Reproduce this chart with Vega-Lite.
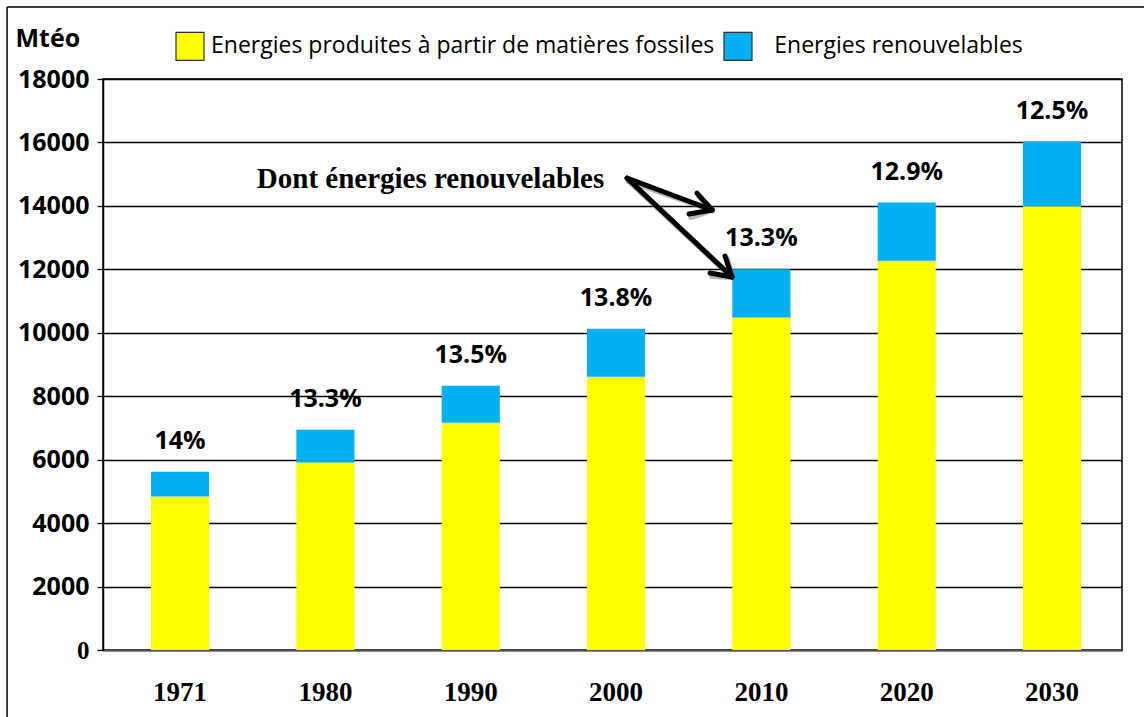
{
  "$schema": "https://vega.github.io/schema/vega-lite/v6.json",
  "width": 1019,
  "height": 571,
  "autosize": {"type": "none"},
  "padding": {"left": 103, "top": 79, "right": 22, "bottom": 67},
  "background": "white",
  "config": {
    "font": "Open Sans",
    "view": {"stroke": "#000", "strokeWidth": 1.5}
  },
  "datasets": {
    "bars": [
      {"year": "1971", "type": "Energies produites à partir de matières fossiles", "value": 4837},
      {"year": "1971", "type": "Energies renouvelables", "value": 779},
      {"year": "1980", "type": "Energies produites à partir de matières fossiles", "value": 5909},
      {"year": "1980", "type": "Energies renouvelables", "value": 1032},
      {"year": "1990", "type": "Energies produites à partir de matières fossiles", "value": 7162},
      {"year": "1990", "type": "Energies renouvelables", "value": 1167},
      {"year": "2000", "type": "Energies produites à partir de matières fossiles", "value": 8613},
      {"year": "2000", "type": "Energies renouvelables", "value": 1515},
      {"year": "2010", "type": "Energies produites à partir de matières fossiles", "value": 10484},
      {"year": "2010", "type": "Energies renouvelables", "value": 1516},
      {"year": "2020", "type": "Energies produites à partir de matières fossiles", "value": 12273},
      {"year": "2020", "type": "Energies renouvelables", "value": 1830},
      {"year": "2030", "type": "Energies produites à partir de matières fossiles", "value": 13986},
      {"year": "2030", "type": "Energies renouvelables", "value": 2042}
    ],
    "labels": [
      {"year": "1971", "total": 5616, "label": "14%"},
      {"year": "1980", "total": 6941, "label": "13.3%"},
      {"year": "1990", "total": 8329, "label": "13.5%"},
      {"year": "2000", "total": 10128, "label": "13.8%"},
      {"year": "2010", "total": 12000, "label": "13.3%"},
      {"year": "2020", "total": 14103, "label": "12.9%"},
      {"year": "2030", "total": 16028, "label": "12.5%"}
    ],
    "arrows": [
      {"x1": 3.600, "y1": 14877, "x2": 4.184, "y2": 13870},
      {"x1": 4.080, "y1": 14405, "x2": 4.184, "y2": 13870},
      {"x1": 4.026, "y1": 13743, "x2": 4.184, "y2": 13870},
      {"x1": 3.600, "y1": 14877, "x2": 4.321, "y2": 11757},
      {"x1": 4.273, "y1": 12419, "x2": 4.321, "y2": 11757},
      {"x1": 4.170, "y1": 11883, "x2": 4.321, "y2": 11757}
    ],
    "frame": [
      {"x1": -0.659, "y1": 20268, "x2": 7.2, "y2": 20268},
      {"x1": -0.659, "y1": 20268, "x2": -0.659, "y2": -2300}
    ],
    "note": [
      {"x": 2.25, "y": 14562, "text": "Dont énergies renouvelables"}
    ]
  },
  "layer": [
    {
      "layer": [
        {
          "data": {"name": "bars"},
          "mark": {"type": "bar"},
          "encoding": {
            "x": {
              "field": "year",
              "type": "ordinal",
              "scale": {"paddingInner": 0.6, "paddingOuter": 0.306, "align": 0.54},
              "axis": {
                "title": null,
                "labelAngle": 0,
                "labelFont": "Liberation Serif",
                "labelFontSize": 27,
                "labelFontWeight": "bold",
                "labelColor": "#000",
                "labelPadding": 29,
                "ticks": false,
                "domainColor": "#555",
                "domainWidth": 2,
                "grid": false
              }
            },
            "y": {
              "field": "value",
              "type": "quantitative",
              "stack": "zero",
              "scale": {"domain": [0, 18000], "nice": false},
              "axis": {
                "title": "Mtéo",
                "titleAngle": 0,
                "titleAlign": "left",
                "titleBaseline": "alphabetic",
                "titleX": -88,
                "titleY": -33,
                "titleFont": "Open Sans",
                "titleFontSize": 25,
                "titleFontWeight": "bold",
                "titleColor": "#000",
                "values": [0, 2000, 4000, 6000, 8000, 10000, 12000, 14000, 16000, 18000],
                "format": "d",
                "labelFont": {"condition": {"test": "datum.value == 0", "value": "Liberation Serif"}, "value": "Open Sans"},
                "labelFontSize": 25,
                "labelFontWeight": "bold",
                "labelColor": "#000",
                "labelPadding": 8,
                "tickSize": 6,
                "tickColor": "#000",
                "tickWidth": 1.3,
                "domainColor": "#000",
                "domainWidth": 1.5,
                "grid": true,
                "gridColor": "#000",
                "gridWidth": 1.3
              }
            },
            "color": {
              "field": "type",
              "type": "nominal",
              "scale": {
                "domain": ["Energies produites à partir de matières fossiles", "Energies renouvelables"],
                "range": ["#FFFF00", "#00B0F0"]
              },
              "legend": {
                "orient": "none",
                "legendX": 72,
                "legendY": -48,
                "direction": "horizontal",
                "title": null,
                "symbolType": "square",
                "symbolSize": 784,
                "symbolStrokeColor": "#333",
                "symbolStrokeWidth": 1.2,
                "symbolOpacity": 1,
                "labelFont": "Open Sans",
                "labelFontSize": 23,
                "labelColor": "#000",
                "labelOffset": 6,
                "columnPadding": 6,
                "labelLimit": 0,
                "labelExpr": "datum.value == 'Energies renouvelables' ? '\u200d\u2002\u2009' + datum.label : datum.label"
              }
            },
            "order": {"field": "type", "sort": "ascending"}
          }
        },
        {
          "data": {"name": "labels"},
          "mark": {"type": "text", "font": "Open Sans", "fontSize": 25, "fontWeight": "bold", "color": "#000", "dy": -31, "baseline": "middle", "align": "center"},
          "encoding": {
            "x": {"field": "year", "type": "ordinal"},
            "y": {"field": "total", "type": "quantitative", "scale": {"domain": [0, 18000], "nice": false}},
            "text": {"field": "label"}
          }
        }
      ]
    },
    {
      "layer": [
        {
          "data": {"name": "frame"},
          "mark": {"type": "rule", "color": "#000", "strokeWidth": 1.5},
          "encoding": {
            "x": {"field": "x1", "type": "quantitative", "scale": {"domain": [0, 7], "nice": false, "zero": false}, "axis": null},
            "x2": {"field": "x2"},
            "y": {"field": "y1", "type": "quantitative", "scale": {"domain": [0, 18000], "nice": false}, "axis": null},
            "y2": {"field": "y2"}
          }
        },
        {
          "data": {"name": "arrows"},
          "mark": {"type": "rule", "color": "#888", "opacity": 0.6, "strokeWidth": 6, "strokeCap": "round", "xOffset": 2, "yOffset": 3},
          "encoding": {
            "x": {"field": "x1", "type": "quantitative"},
            "x2": {"field": "x2"},
            "y": {"field": "y1", "type": "quantitative"},
            "y2": {"field": "y2"}
          }
        },
        {
          "data": {"name": "arrows"},
          "mark": {"type": "rule", "color": "#000", "strokeWidth": 5, "strokeCap": "round"},
          "encoding": {
            "x": {"field": "x1", "type": "quantitative"},
            "x2": {"field": "x2"},
            "y": {"field": "y1", "type": "quantitative"},
            "y2": {"field": "y2"}
          }
        },
        {
          "data": {"name": "note"},
          "mark": {"type": "text", "font": "Liberation Serif", "fontSize": 29, "fontWeight": "bold", "color": "#000", "align": "center", "baseline": "alphabetic"},
          "encoding": {
            "x": {"field": "x", "type": "quantitative"},
            "y": {"field": "y", "type": "quantitative"},
            "text": {"field": "text"}
          }
        }
      ]
    }
  ],
  "resolve": {"scale": {"x": "independent", "y": "independent"}}
}
